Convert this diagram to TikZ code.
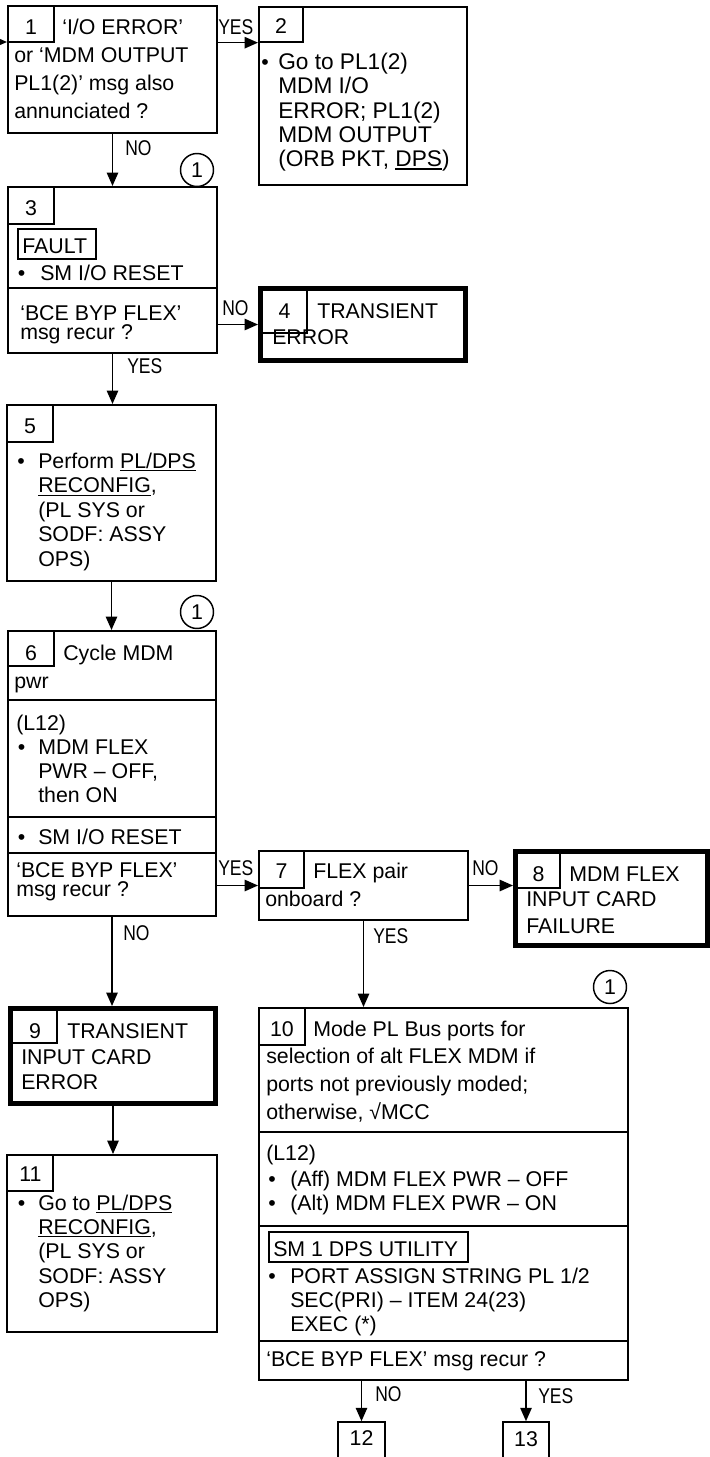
\documentclass[tikz,border=0pt]{standalone}
\usepackage{fontspec}
\setmainfont{Liberation Sans}
\newfontfamily\narrowfont[FakeStretch=0.82]{Liberation Sans}
\usetikzlibrary{arrows.meta,fit}
\newcommand\rows[1]{\begin{tabular}[t]{@{}l@{}}#1\end{tabular}}
\newcommand\uline[1]{\setbox0\hbox{#1}\rlap{\rule[-2.2pt]{\wd0}{0.9pt}}\box0}
\begin{document}
\begin{tikzpicture}[x=0.75pt,y=-0.75pt,
  box/.style={draw, line width=1.5pt, inner sep=0},
  tbox/.style={draw, line width=3.75pt, inner sep=0},
  nbox/.style={draw, line width=1pt, inner sep=0},
  div/.style={line width=1.2pt},
  txt/.style={inner sep=0, anchor=base west, font=\fontsize{16}{18.3}\selectfont},
  ls/.style={font=\fontsize{16}{#1}\selectfont},
  dig/.style={inner sep=0, anchor=base, font=\fontsize{16}{18.3}\selectfont},
  bul/.style={inner sep=0, anchor=base, font=\fontsize{16}{18.3}\selectfont},
  lab/.style={inner sep=0, anchor=base west, font=\narrowfont\fontsize{16}{18}\selectfont},
  circ/.style={circle, draw, line width=1.1pt, minimum size=24.75pt, inner sep=0, font=\fontsize{16}{18}\selectfont},
  arr/.style={-{Triangle[length=10pt,width=8.5pt]}, line width=1.2pt}]
\useasboundingbox (0,0) rectangle (710,1457);

% Box 1
\node[box, fit={(8,6)(217,133)}] (b1) {};
\node[nbox, fit={(8,6)(54,42)}] (n1) {};
\node[dig] (d1) at (31,34.5) {1};
\node[txt] (t1a) at (62,34.5) {‘I/O ERROR’};
\node[txt, ls=21pt] (t1b) at (14,62.5) {\rows{or ‘MDM OUTPUT\\PL1(2)’ msg also\\annunciated ?}};

% Box 2
\node[box, fit={(259,7)(467,185)}] (b2) {};
\node[nbox, fit={(259,7)(303,42)}] (n2) {};
\node[dig] (d2) at (281,33.5) {2};
\node[bul] (u2) at (265,69.5) {\textbullet};
\node[txt, font=\fontsize{17}{18.2}\selectfont] (t2) at (278,69.5) {\rows{Go to PL1(2)\\MDM I/O\\ERROR; PL1(2)\\MDM OUTPUT\\(ORB PKT, \uline{DPS})}};

\coordinate (in1) at (-30,42);
\draw[arr] (in1) -- (in1 -| b1.west);
\draw[arr] (b1.east |- n1.south) -- (b2.west |- n1.south);
\node[lab] (l12) at (218,34.3) {YES};

% Box 3
\node[box, fit={(8,187)(217,353)}] (b3) {};
\node[nbox, fit={(8,187)(54,224)}] (n3) {};
\node[dig] (d3) at (31,215) {3};
\node[nbox, fit={(18,229)(96,259)}] (f3) {};
\node[txt] (t3a) at (22,253.5) {FAULT};
\node[bul] (u3) at (21.7,280.7) {\textbullet};
\node[txt] (t3b) at (40,280.7) {SM I/O RESET};
\draw[div] (8,288) -- (217,288);
\node[txt] (t3c) at (20,320) {‘BCE BYP FLEX’};
\node[txt] (t3d) at (20,339.5) {msg recur ?};

\draw[arr] (b1.south) -- (b3.north);
\node[lab] (l13) at (125,155) {NO};
\node[circ] (c1) at (197,170) {1};

% Box 4
\node[tbox, fit={(260.5,288.5)(465.5,360.5)}] (b4) {};
\node[nbox, fit={(262,290)(307,333)}] (n4) {};
\node[dig] (d4) at (284.5,318.3) {4};
\node[txt] (t4a) at (317,318.3) {TRANSIENT};
\node[txt] (t4b) at (272,344) {ERROR};
\draw[arr] (b3.east |- b4.west) -- (b4.west);
\node[lab] (l34) at (222,315) {NO};

% Box 5
\node[box, fit={(7,405)(216,581)}] (b5) {};
\node[nbox, fit={(7,405)(53,442)}] (n5) {};
\node[dig] (d5) at (30,433.3) {5};
\node[bul] (u5) at (21,468.5) {\textbullet};
\node[txt] (t5) at (38,468.5) {\rows{Perform \uline{PL/DPS}\\\uline{RECONFIG},\\(PL SYS or\\SODF: ASSY\\OPS)}};
\draw[arr] (b3.south) -- (b3.south |- b5.north);
\node[lab] (l35) at (127,373.3) {YES};

% Box 6
\node[box, fit={(8,631)(216,916)}] (b6) {};
\node[nbox, fit={(8,631)(54,666)}] (n6) {};
\node[dig] (d6) at (31,660.5) {6};
\node[txt] (t6a) at (63,660.5) {Cycle MDM};
\node[txt] (t6b) at (14,688) {pwr};
\draw[div] (8,700) -- (216,700);
\node[txt] (t6c) at (16,730) {(L12)};
\node[bul] (u6a) at (21.7,754.3) {\textbullet};
\node[txt, ls=18.2pt] (t6d) at (38,754.3) {\rows{MDM FLEX\\PWR – OFF,\\then ON}};
\draw[div] (8,817) -- (216,817);
\node[bul] (u6b) at (21.7,844) {\textbullet};
\node[txt] (t6e) at (38,844) {SM I/O RESET};
\draw[div] (8,853) -- (216,853);
\node[txt] (t6f) at (16,877.3) {‘BCE BYP FLEX’};
\node[txt] (t6g) at (16,896) {msg recur ?};
\draw[arr] (b5.south) -- (b5.south |- b6.north);
\node[circ] (c2) at (197,612) {1};

% Box 7
\node[box, fit={(259,851)(468,920)}] (b7) {};
\node[nbox, fit={(259,851)(304,888)}] (n7) {};
\node[dig] (d7) at (281.5,878.3) {7};
\node[txt] (t7a) at (313,878.3) {FLEX pair};
\node[txt] (t7b) at (265,906.7) {onboard ?};
\draw[arr] (b6.east |- b7.west) -- (b7.west);
\node[lab] (l67) at (218,875) {YES};

% Box 8
\node[tbox, fit={(515.5,851.5)(707.5,945.5)}] (b8) {};
\node[nbox, fit={(517,853)(560,888)}] (n8) {};
\node[dig] (d8) at (538.5,881.7) {8};
\node[txt] (t8a) at (569,881.7) {MDM FLEX};
\node[txt, ls=20pt] (t8b) at (526,906.7) {\rows{INPUT CARD\\FAILURE}};
\draw[arr] (b7.east) -- (b7.east -| b8.west);
\node[lab] (l78) at (472,875) {NO};

% Box 9
\node[tbox, fit={(10.5,1008.5)(215.5,1103.5)}] (b9) {};
\node[nbox, fit={(12,1010)(57,1043)}] (n9) {};
\node[dig] (d9) at (35,1038.3) {9};
\node[txt] (t9a) at (67,1038.3) {TRANSIENT};
\node[txt, ls=19pt] (t9b) at (21,1064) {\rows{INPUT CARD\\ERROR}};
\draw[arr] (b6.south) -- (b6.south |- b9.north);
\node[lab] (l69) at (123,940) {NO};

% Box 11
\node[box, fit={(7,1155)(217,1332)}] (b11) {};
\node[nbox, fit={(7,1155)(53,1191)}] (n11) {};
\node[dig] (d11) at (30.5,1181.7) {11};
\node[bul] (u11) at (21.7,1210) {\textbullet};
\node[txt] (t11) at (38,1210) {\rows{Go to \uline{PL/DPS}\\\uline{RECONFIG},\\(PL SYS or\\SODF: ASSY\\OPS)}};
\draw[arr] (b9.south) -- (b9.south |- b11.north);

% Box 10
\node[box, fit={(259,1008)(628,1380)}] (b10) {};
\node[nbox, fit={(259,1008)(305,1045)}] (n10) {};
\node[dig] (d10) at (282,1036) {10};
\node[txt] (t10a) at (313,1036) {Mode PL Bus ports for};
\node[txt, ls=21pt] (t10b) at (266,1063.3) {\rows{selection of alt FLEX MDM if\\ports not previously moded;\\otherwise, √MCC}};
\draw[div] (259,1132) -- (628,1132);
\node[txt] (t10c) at (266,1160) {(L12)};
\node[bul] (u10a) at (272,1186) {\textbullet};
\node[bul] (u10b) at (272,1210.7) {\textbullet};
\node[txt, ls=18.5pt] (t10d) at (290,1186) {\rows{(Aff) MDM FLEX PWR – OFF\\(Alt) MDM FLEX PWR – ON}};
\draw[div] (259,1226) -- (628,1226);
\node[nbox, fit={(269,1232)(468,1262)}] (f10) {};
\node[txt] (t10e) at (273,1256) {SM 1 DPS UTILITY};
\node[bul] (u10c) at (272,1283.3) {\textbullet};
\node[txt, ls=18.2pt] (t10f) at (290,1283.3) {\rows{PORT ASSIGN STRING PL 1/2\\SEC(PRI) – ITEM 24(23)\\EXEC (*)}};
\draw[div] (259,1341) -- (628,1341);
\node[txt] (t10g) at (266,1366.7) {‘BCE BYP FLEX’ msg recur ?};
\draw[arr] (b7.south) -- (b7.south |- b10.north);
\node[lab] (l710) at (373,943.3) {YES};
\node[circ] (c3) at (610,987) {1};

% Boxes 12, 13
\node[box, line width=1.2pt, fit={(338,1422)(385,1480)}] (b12) {};
\node[dig] (t12) at (361.5,1445) {12};
\node[box, line width=1.2pt, fit={(503,1422)(549,1480)}] (b13) {};
\node[dig] (t13) at (526,1446) {13};
\draw[arr] (b10.south -| b12.north) -- (b12.north);
\draw[arr] (b10.south -| b13.north) -- (b13.north);
\node[lab] (l1012) at (375,1401.7) {NO};
\node[lab] (l1013) at (538,1403.3) {YES};
\end{tikzpicture}
\end{document}
